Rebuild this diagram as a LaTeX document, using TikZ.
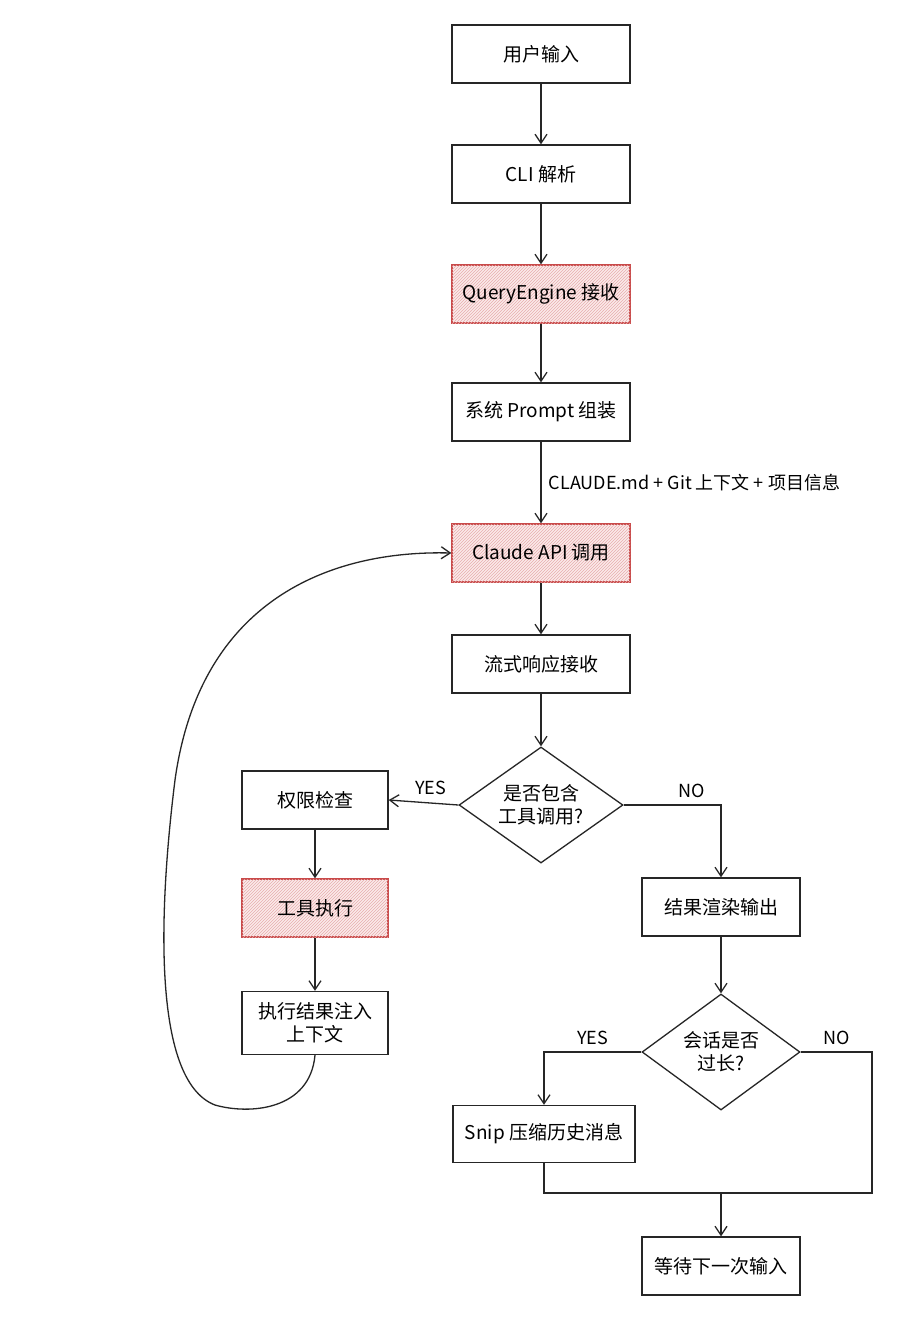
\documentclass[tikz,border=0pt]{standalone}
\usepackage{fontspec}
\setmainfont{Noto Sans CJK SC}
\usetikzlibrary{patterns,arrows.meta,shapes.geometric}
\definecolor{hred}{HTML}{C94A4A}
\definecolor{hpink}{HTML}{FBEAEA}
\begin{document}
\begin{tikzpicture}[x=1pt,y=-1pt,
  box/.style={draw=black!85,line width=1.3pt,minimum width=178pt,minimum height=58pt,inner sep=2pt,font=\fontsize{19}{23}\selectfont,align=center},
  hot/.style={box,draw=hred,fill=hpink,postaction={pattern=north east lines,pattern color=hred!45}},
  dia/.style={draw=black!85,line width=1.3pt,diamond,aspect=1.4,inner sep=0pt,minimum width=164pt,minimum height=116pt,font=\fontsize{19}{23}\selectfont,align=center},
  arr/.style={draw=black!85,line width=1.3pt,-{Straight Barb[length=9pt,width=12pt]}},
  ln/.style={draw=black!85,line width=1.3pt},
  lab/.style={font=\fontsize{18}{21}\selectfont}]
\useasboundingbox (0,0) rectangle (909,1328);
\fill[white] (0,0) rectangle (909,1328);
\node[box] (a) at (541,54) {用户输入};
\node[box] (b) at (541,174) {CLI 解析};
\node[hot] (c) at (541,294) {QueryEngine 接收};
\node[box] (d) at (541,412) {系统 Prompt 组装};
\node[hot] (e) at (541,553) {Claude API 调用};
\node[box] (f) at (541,664) {流式响应接收};
\node[dia] (g) at (541,805) {是否包含\\工具调用?};
\node[box,minimum width=146pt] (h) at (315,800) {权限检查};
\node[hot,minimum width=146pt] (i) at (315,908) {工具执行};
\node[box,minimum width=146pt,minimum height=63pt] (j) at (315,1023) {执行结果注入\\上下文};
\node[box,minimum width=158pt] (k) at (721,907) {结果渲染输出};
\node[dia,minimum width=158pt,minimum height=116pt] (l) at (721,1052) {会话是否\\过长?};
\node[box,minimum width=182pt,minimum height=57pt] (m) at (544,1134) {Snip 压缩历史消息};
\node[box,minimum width=158pt] (n) at (721,1266) {等待下一次输入};
\coordinate (mg) at (721,1193);
\draw[arr] (a) -- (b);
\draw[arr] (b) -- (c);
\draw[arr] (c) -- (d);
\draw[arr] (d) -- node[right,lab,xshift=4pt] {CLAUDE.md + Git 上下文 + 项目信息} (e);
\draw[arr] (e) -- (f);
\draw[arr] (f) -- (g);
\draw[arr] (g.west) -- node[above,lab,pos=0.4,yshift=4pt] {YES} (h.east);
\draw[arr] (g.east) -| node[above,lab,pos=0.35,yshift=3pt] {NO} (k.north);
\draw[arr] (h) -- (i);
\draw[arr] (i) -- (j);
\draw[arr] (j.south) .. controls (310,1110) and (250,1115) .. (215,1105)
  .. controls (150,1080) and (160,900) .. (175,780)
  .. controls (200,600) and (330,550) .. (e.west);
\draw[arr] (k) -- (l);
\draw[arr] (l.west) -| node[above,lab,pos=0.25,yshift=3pt] {YES} (m.north);
\draw[ln] (l.east) -- node[above,lab,pos=0.5,yshift=3pt] {NO} (872,1052) -- (872,1193) -- (mg);
\draw[ln] (m.south) |- (mg);
\draw[arr] (mg) -- (n);
\end{tikzpicture}
\end{document}
